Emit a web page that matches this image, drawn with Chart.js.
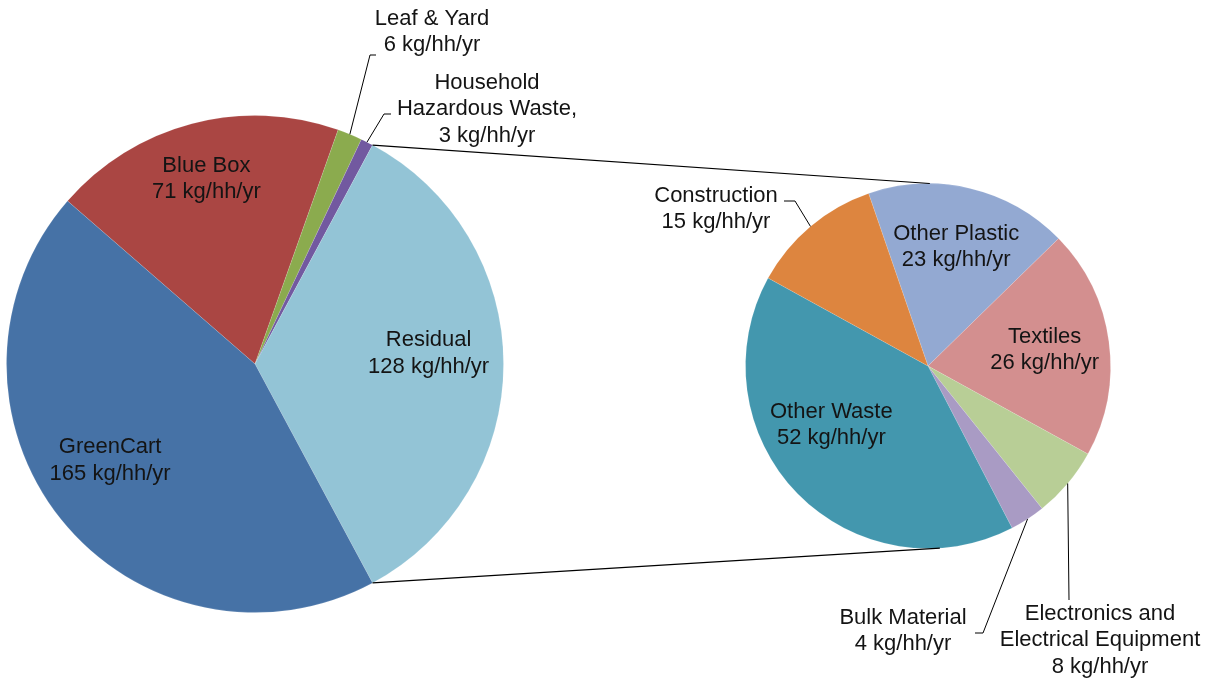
<!DOCTYPE html>
<html>
<head>
<meta charset="utf-8">
<script src="https://cdn.jsdelivr.net/npm/chart.js@4.4.1/dist/chart.umd.min.js"></script>
<style>
  html, body { margin: 0; padding: 0; background: #fff; }
  .layer { position: absolute; left: 0; top: 0; width: 1216px; height: 679px; }
</style>
</head>
<body>
<div class="layer"><canvas id="c-main" width="1216" height="679"></canvas></div>
<div class="layer"><canvas id="c-sub" width="1216" height="679"></canvas></div>
<script>
/* ── ข้อมูล: ขยะครัวเรือน (kg/hh/yr) ── */
const mainNames  = ['Blue Box', 'Leaf & Yard', 'Household\nHazardous Waste,', 'Residual', 'GreenCart'];
const mainValues = [71, 6, 3, 128, 165];
const mainColors = ['#AA4643', '#8BAB4E', '#7259A0', '#93C4D6', '#4672A6'];

const subNames  = ['Other Plastic', 'Textiles', 'Electronics and\nElectrical Equipment', 'Bulk Material', 'Other Waste', 'Construction'];
const subValues = [23, 26, 8, 4, 52, 15];
const subColors = ['#93A9D2', '#D38F8F', '#B8CE96', '#A99BC4', '#4397AE', '#DD853F'];

const UNIT = ' kg/hh/yr';
const SPLIT_INDEX = 3;   // Residual → แตกเป็นวงขวา

/* ── การจัดวางป้าย (ไม่ใช่ข้อมูล) ── */
const FONT = '22px "Liberation Sans", Arial, Helvetica, sans-serif';
const LINE_H = 26.5;
// inside: frac = ระยะจากศูนย์กลาง (สัดส่วนรัศมี), dAng = เลื่อนมุม (องศา)
// outside: text = จุดกลางข้อความ, elbow/tick = เส้นชี้ (px จากศูนย์กลางวง)
const mainLabels = [
  { frac: 0.77, dAng: 0 },
  { text: [177, -332], elbow: [115, -309], tick: [121, -309] },
  { text: [232, -255], elbow: [129, -250], tick: [136, -250] },
  { frac: 0.70, dAng: -3.5 },
  { frac: 0.70, dAng: 5 }
];
const subLabels = [
  { frac: 0.67, dAng: 0 },
  { frac: 0.645, dAng: 0 },
  { text: [172, 274], elbow: [141, 234] },
  { text: [-25, 265], elbow: [55, 267], tick: [47, 267] },
  { frac: 0.62, dAng: 13 },
  { text: [-212, -157], elbow: [-133, -165], tick: [-144, -165] }
];

function sum(a) { return a.reduce(function (s, v) { return s + v; }, 0); }

// หมุนวงหลักให้ชิ้น Residual หันไปทางขวา
const before = sum(mainValues.slice(0, SPLIT_INDEX)) + mainValues[SPLIT_INDEX] / 2;
const mainRotation = 90 - 360 * before / sum(mainValues);
const subRotation = -19;

function labelLines(name, value) {
  return name.split('\n').concat([value + UNIT]);
}

function drawLabels(chart, names, values, layout) {
  const ctx = chart.ctx;
  const arcs = chart.getDatasetMeta(0).data;
  ctx.save();
  ctx.font = FONT;
  ctx.fillStyle = '#141414';
  ctx.textAlign = 'center';
  ctx.textBaseline = 'middle';
  ctx.strokeStyle = '#000';
  ctx.lineWidth = 1;
  arcs.forEach(function (arc, i) {
    const L = layout[i];
    const lines = labelLines(names[i], values[i]);
    const mid = (arc.startAngle + arc.endAngle) / 2;
    let cx, cy;
    if (L.frac !== undefined) {
      const a = mid + L.dAng * Math.PI / 180;
      cx = arc.x + Math.cos(a) * arc.outerRadius * L.frac;
      cy = arc.y + Math.sin(a) * arc.outerRadius * L.frac;
    } else {
      cx = arc.x + L.text[0];
      cy = arc.y + L.text[1];
      const px = arc.x + Math.cos(mid) * arc.outerRadius;
      const py = arc.y + Math.sin(mid) * arc.outerRadius;
      ctx.beginPath();
      ctx.moveTo(px, py);
      ctx.lineTo(arc.x + L.elbow[0], arc.y + L.elbow[1]);
      if (L.tick) ctx.lineTo(arc.x + L.tick[0], arc.y + L.tick[1]);
      ctx.stroke();
    }
    const y0 = cy - (lines.length - 1) * LINE_H / 2;
    lines.forEach(function (t, k) { ctx.fillText(t, cx, y0 + k * LINE_H); });
  });
  ctx.restore();
}

const mainChart = new Chart(document.getElementById('c-main'), {
  type: 'pie',
  data: { labels: mainNames, datasets: [{ data: mainValues, backgroundColor: mainColors, borderColor: 'rgba(255,255,255,0.12)', borderWidth: 1 }] },
  options: {
    responsive: false, animation: false, devicePixelRatio: 1,
    rotation: mainRotation,
    layout: { padding: { left: 6, top: 115, right: 712, bottom: 66 } },
    plugins: { legend: { display: false }, tooltip: { enabled: false } }
  },
  plugins: [{ id: 'mainLabels', afterDraw: function (c) { drawLabels(c, mainNames, mainValues, mainLabels); } }]
});

new Chart(document.getElementById('c-sub'), {
  type: 'pie',
  data: { labels: subNames, datasets: [{ data: subValues, backgroundColor: subColors, borderColor: 'rgba(255,255,255,0.12)', borderWidth: 1 }] },
  options: {
    responsive: false, animation: false, devicePixelRatio: 1,
    rotation: subRotation,
    layout: { padding: { left: 745, top: 183, right: 105, bottom: 130 } },
    plugins: { legend: { display: false }, tooltip: { enabled: false } }
  },
  plugins: [{
    id: 'connectors',
    afterDraw: function (c) {
      /* เส้นเชื่อมจากชิ้น Residual ไปยังวงขวา */
      const src = mainChart.getDatasetMeta(0).data[SPLIT_INDEX];
      const dst = c.getDatasetMeta(0).data[0];
      const ctx = c.ctx;
      const a1 = src.startAngle, a2 = src.endAngle;
      const t = -Math.PI / 2 + 0.01, b = Math.PI / 2 - 0.065;
      ctx.save();
      ctx.strokeStyle = '#000';
      ctx.lineWidth = 1.2;
      ctx.beginPath();
      ctx.moveTo(src.x + Math.cos(a1) * src.outerRadius, src.y + Math.sin(a1) * src.outerRadius);
      ctx.lineTo(dst.x + Math.cos(t) * dst.outerRadius, dst.y + Math.sin(t) * dst.outerRadius);
      ctx.moveTo(src.x + Math.cos(a2) * src.outerRadius, src.y + Math.sin(a2) * src.outerRadius);
      ctx.lineTo(dst.x + Math.cos(b) * dst.outerRadius, dst.y + Math.sin(b) * dst.outerRadius);
      ctx.stroke();
      ctx.restore();
      drawLabels(c, subNames, subValues, subLabels);
    }
  }]
});
</script>
</body>
</html>
